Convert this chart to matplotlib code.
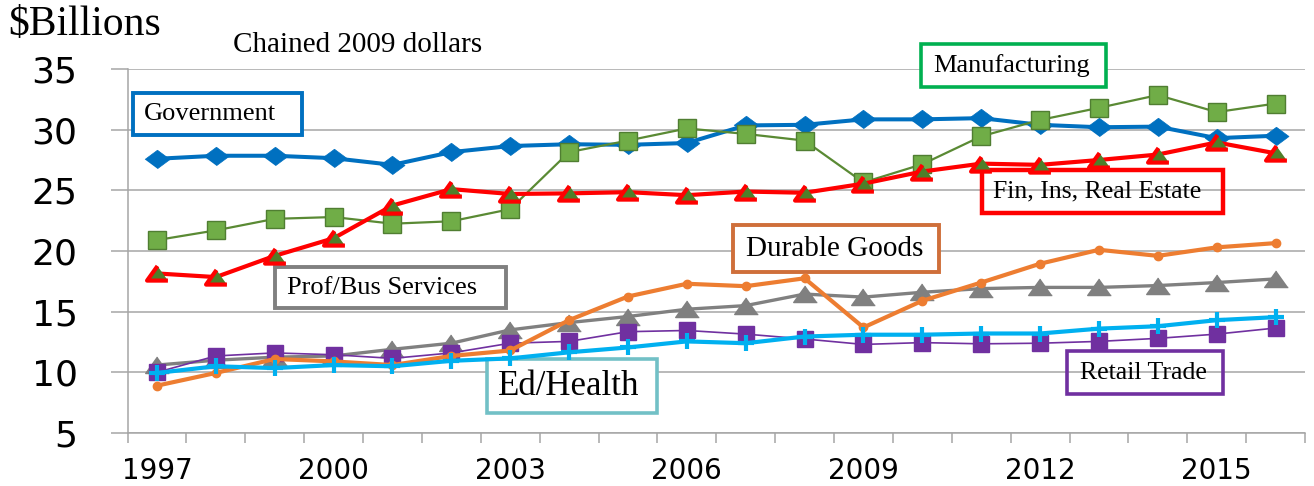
import matplotlib
matplotlib.use("Agg")
import matplotlib.pyplot as plt
from matplotlib.patches import Rectangle

# Real value added by sector, $ billions (chained 2009 dollars)
years = list(range(1997, 2017))

government = [27.6, 27.85, 27.85, 27.65, 27.1, 28.15, 28.65, 28.8, 28.75, 28.9,
              30.35, 30.4, 30.85, 30.85, 30.95, 30.4, 30.2, 30.25, 29.3, 29.5]
manufacturing = [20.9, 21.7, 22.65, 22.8, 22.25, 22.45, 23.45, 28.15, 29.1, 30.1,
                 29.65, 29.1, 25.65, 27.15, 29.45, 30.8, 31.8, 32.85, 31.45, 32.15]
fin_ins_re = [18.15, 17.85, 19.6, 21.05, 23.75, 25.1, 24.7, 24.75, 24.85, 24.6,
              24.9, 24.8, 25.55, 26.55, 27.2, 27.1, 27.5, 27.95, 28.95, 28.05]
prof_bus = [10.6, 11.0, 11.25, 11.35, 11.9, 12.4, 13.5, 14.1, 14.6, 15.2,
            15.5, 16.45, 16.2, 16.6, 16.9, 17.0, 17.0, 17.15, 17.4, 17.7]
durable_goods = [8.9, 9.95, 11.1, 10.9, 10.6, 11.35, 11.8, 14.3, 16.25, 17.3,
                 17.1, 17.75, 13.7, 15.9, 17.4, 18.95, 20.1, 19.6, 20.3, 20.65]
ed_health = [9.95, 10.5, 10.35, 10.6, 10.5, 10.95, 11.15, 11.65, 12.05, 12.55,
             12.4, 12.95, 13.1, 13.1, 13.2, 13.2, 13.6, 13.8, 14.3, 14.55]
retail_trade = [10.0, 11.35, 11.6, 11.45, 11.15, 11.6, 12.4, 12.55, 13.35, 13.45,
                13.15, 12.75, 12.3, 12.45, 12.35, 12.4, 12.55, 12.8, 13.15, 13.65]

y_ticks = [5, 10, 15, 20, 25, 30, 35]
x_labels = [1997, 2000, 2003, 2006, 2009, 2012, 2015]

W, H = 1314, 486
fig = plt.figure(figsize=(W / 100, H / 100), dpi=100)
ax = fig.add_axes([127.5 / W, 1 - 433 / H, (1305 - 127.5) / W, (433 - 69) / H])

grid_c = "#A6A6A6"
flat_diamond = [(-1, 0), (0, 0.74), (1, 0), (0, -0.74)]
flat_tri = [(0, 0.72), (-1, -0.68), (1, -0.68)]

ax.plot(years, government, color="#0070C0", lw=2.9, marker=flat_diamond, ms=18,
        mfc="#0070C0", mec="#0070C0", mew=0.5, zorder=3)
ax.plot(years, manufacturing, color="#5A8A34", lw=1.6, marker="s", ms=12.5,
        mfc="#70AD47", mec="#507E32", mew=1, zorder=4)
ax.plot(years, fin_ins_re, color="#FF0000", lw=3, marker=flat_tri, ms=15,
        mfc="#4F7F2A", mec="#FF0000", mew=3, zorder=5)
ax.plot(years, prof_bus, color="#808080", lw=2.4, marker=flat_tri, ms=17,
        mfc="#808080", mec="#808080", zorder=6)
ax.plot(years, retail_trade, color="#7030A0", lw=1.2, marker="s", ms=11.5,
        mfc="#7030A0", mec="#7030A0", zorder=7)
ax.plot(years, durable_goods, color="#ED7D31", lw=3, marker="o", ms=6,
        mfc="#ED7D31", mec="#ED7D31", zorder=8)
ax.plot(years, ed_health, color="#00B0F0", lw=3, marker="+", ms=11,
        mec="#00B0F0", mew=3, zorder=9)

ax.set_xlim(1996.5, 2016.5)
ax.set_ylim(5, 35)
ax.set_yticks(y_ticks)
ax.set_xticks(x_labels)
ax.set_xticks([y - 0.5 for y in years] + [years[-1] + 0.5], minor=True)
ax.grid(axis="y", color=grid_c, lw=1.1)
ax.set_axisbelow(True)

for side in ["top", "right"]:
    ax.spines[side].set_visible(False)
for side in ["left", "bottom"]:
    ax.spines[side].set_color(grid_c)
    ax.spines[side].set_linewidth(1.1)

ax.tick_params(axis="y", length=12, width=1.1, color=grid_c, pad=24,
               labelsize=26, labelcolor="black")
ax.tick_params(axis="x", which="major", length=0, pad=17, labelsize=20)
ax.tick_params(axis="x", which="minor", length=7, width=1.1, color=grid_c)
for lab in ax.get_xticklabels() + ax.get_yticklabels():
    lab.set_family("DejaVu Sans")

serif = "Liberation Serif"
fig.text(8 / W, 1 - 35 / H, "$Billions", family=serif, fontsize=30, va="baseline")
fig.text(233 / W, 1 - 52 / H, "Chained 2009 dollars", family=serif, fontsize=21,
         va="baseline")

# label boxes: (text, colour, left, top, right, bottom, text_x, size, filled, border)
boxes = [
    ("Government", "#0070C0", 133, 93, 302, 135, 144, 19, True, 2.8),
    ("Manufacturing", "#00B050", 921, 44, 1106, 87, 933, 19, True, 2.6),
    ("Fin, Ins, Real Estate", "#FF0000", 982, 170, 1223, 213, 993, 18.5, False, 3.2),
    ("Durable Goods", "#CF6F3A", 733, 225, 939, 272, 746, 21, True, 2.8),
    ("Prof/Bus Services", "#808080", 275, 267, 506, 308, 287, 19, True, 2.8),
    ("Ed/Health", "#72C0C6", 487, 359, 657, 413, 498, 25, True, 2.6),
    ("Retail Trade", "#7030A0", 1067, 351, 1223, 394, 1080, 18.5, False, 2.6),
]
for text, col, x0, y0, x1, y1, tx, size, filled, bw in boxes:
    rect = Rectangle((x0 / W, 1 - y1 / H), (x1 - x0) / W, (y1 - y0) / H,
                     transform=fig.transFigure, facecolor="white" if filled else "none",
                     edgecolor=col, lw=bw, clip_on=False, zorder=2)
    ax.add_patch(rect)
    ax.text(tx / W, 1 - (y0 + y1) / 2 / H, text, transform=fig.transFigure,
            family=serif, fontsize=size, va="center", ha="left", zorder=12,
            clip_on=False)

fig.savefig("out.png", dpi=100)
